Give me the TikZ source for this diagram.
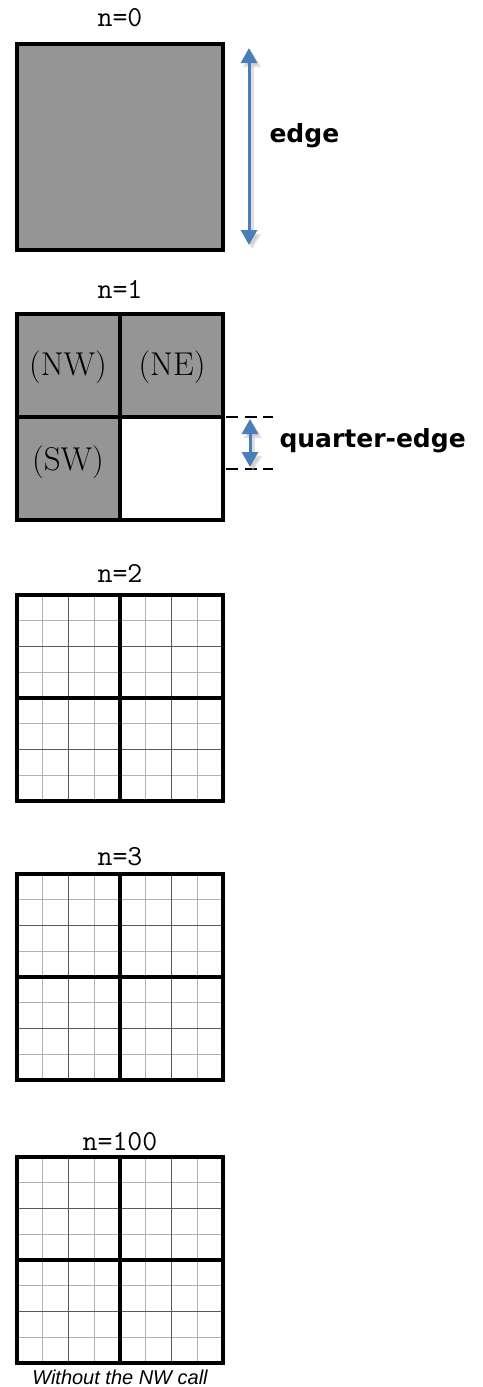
\documentclass[tikz,border=0pt]{standalone}
\usepackage{fontspec}
\usepackage{tikz}
\usetikzlibrary{arrows.meta}
\newfontfamily\boldsans{DejaVu Sans}
\newfontfamily\capfont{Liberation Sans}
\definecolor{quadgray}{RGB}{149,149,149}
\definecolor{dimblue}{RGB}{74,126,187}

\begin{document}
\begin{tikzpicture}[x=1pt, y=-1pt,
  frame/.style={line width=4pt},
  title/.style={font=\ttfamily\fontsize{29}{29}\selectfont},
  quad/.style={font=\fontsize{33}{33}\selectfont},
  dimarrow/.style={dimblue, line width=3pt, {Triangle[width=16pt,length=15pt]}-{Triangle[width=16pt,length=15pt]}},
  dimshadow/.style={black!25, opacity=0.5, line width=4pt, {Triangle[width=17pt,length=15pt]}-{Triangle[width=17pt,length=15pt]}},
  dimlabel/.style={font=\boldsans\bfseries\fontsize{25}{25}\selectfont, anchor=west},
  eighth/.style={black!30, line width=1pt},
  quarter/.style={black!65, line width=1pt}]
\useasboundingbox (0,0) rectangle (482,1387);

\node[title] (t0) at (120,18) {n=0};
\fill[quadgray] (17,44) rectangle (223,250);
\draw[frame] (17,44) rectangle (223,250);

\coordinate (etop) at (249,48);
\coordinate (ebot) at (249,245);
\draw[dimshadow] ([shift={(3,4)}]etop) -- ([shift={(3,4)}]ebot);
\draw[dimarrow] (etop) -- (ebot);
\node[dimlabel] (edge) at (266,136) {edge};

\node[title] (t1) at (120,289) {n=1};
\fill[quadgray] (17,314) rectangle (223,417);
\fill[quadgray] (17,417) rectangle (120,520);
\draw[frame] (120,314) -- (120,520);
\draw[frame] (17,417) -- (223,417);
\draw[frame] (17,314) rectangle (223,520);
\node[quad] (nw) at (68,367) {(NW)};
\node[quad] (ne) at (172,367) {(NE)};
\node[quad] (sw) at (68,462) {(SW)};

\coordinate (qa) at (226,417);
\coordinate (qb) at (273,417);
\coordinate (qc) at (226,469);
\coordinate (qd) at (273,469);
\draw[dashed, dash pattern=on 12pt off 6.5pt, line width=2pt] (qa) -- (qb);
\draw[dashed, dash pattern=on 12pt off 6.5pt, line width=2pt] (qc) -- (qd);
\coordinate (qtop) at (250,419);
\coordinate (qbot) at (250,467);
\draw[dimshadow] ([shift={(3,4)}]qtop) -- ([shift={(3,4)}]qbot);
\draw[dimarrow] (qtop) -- (qbot);
\node[dimlabel] (qedge) at (276,441) {quarter-edge};

\foreach \sy/\nm/\txt/\ty in {595/two/2/573, 874/three/3/857, 1157/hundred/100/1142} {
  \node[title] (t\nm) at (120,\ty) {n=\txt};
  \foreach \i in {1,3,5,7} {
    \draw[eighth] (17+\i*25.75,\sy) -- (17+\i*25.75,\sy+206);
    \draw[eighth] (17,\sy+\i*25.75) -- (223,\sy+\i*25.75);
  }
  \foreach \i in {2,6} {
    \draw[quarter] (17+\i*25.75,\sy) -- (17+\i*25.75,\sy+206);
    \draw[quarter] (17,\sy+\i*25.75) -- (223,\sy+\i*25.75);
  }
  \draw[frame] (120,\sy) -- (120,\sy+206);
  \draw[frame] (17,\sy+103) -- (223,\sy+103);
  \draw[frame] (17,\sy) rectangle (223,\sy+206);
}
\node[font=\capfont\itshape\fontsize{20}{20}\selectfont] (cap) at (120,1377) {Without the NW call};
\end{tikzpicture}
\end{document}
